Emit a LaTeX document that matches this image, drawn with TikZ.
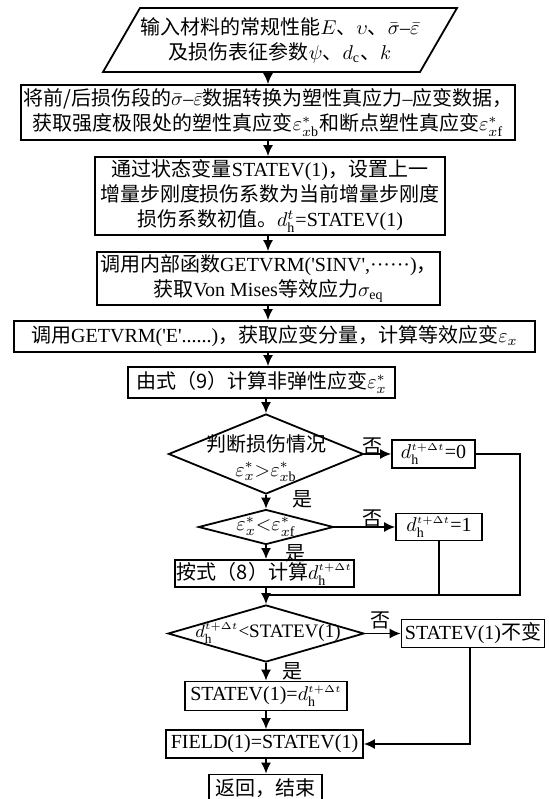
\documentclass[tikz,border=0pt]{standalone}
\usepackage{fontspec}
\setmainfont{Liberation Serif}
\newfontfamily\cjk{Noto Sans CJK SC}
\usetikzlibrary{arrows.meta,shapes.geometric}
\newcommand\zh[1]{{\cjk #1}}
\newcommand\dth{d^{\scriptscriptstyle t+\Delta t}_{\mathrm{h}}}
\newcommand\sq{\textquotesingle}
\begin{document}
\begin{tikzpicture}[x=0.5pt,y=-0.5pt,
  every node/.style={font=\fontsize{10}{12.5}\selectfont},
  box/.style={draw,line width=0.9pt,align=center,inner sep=1pt},
  dia/.style={draw,line width=0.9pt,diamond,inner sep=0pt},
  txt/.style={align=center,inner sep=0pt},
  lab/.style={inner sep=0pt},
  arr/.style={line width=0.7pt,-{Latex[length=5.5pt,width=5pt]}},
  ln/.style={line width=0.7pt}]
\useasboundingbox (0,0) rectangle (548,799);
% input parallelogram
\draw[line width=0.9pt] (140,8) -- (457,8) -- (420,72) -- (103,72) -- cycle;
\node[txt] (in) at (280,40) {\zh{输入材料的常规性能}$E$\zh{、}$\upsilon$\zh{、}$\bar\sigma$--$\bar\varepsilon$\\\zh{及损伤表征参数}$\psi$\zh{、}$d_\mathrm{c}$\zh{、}$k$};
\coordinate (inb) at (268,72);
\coordinate (ax) at (268,0);
\coordinate (ay) at (266,0);
\node[box,minimum width=246.5pt,minimum height=27.5pt] (b2) at (268,112.5) {\zh{将前/后损伤段的}$\bar\sigma$--$\bar\varepsilon$\zh{数据转换为塑性真应力}--\zh{应变数据，}\\\zh{获取强度极限处的塑性真应变}$\varepsilon^*_{x\mathrm{b}}$\zh{和断点塑性真应变}$\varepsilon^*_{x\mathrm{f}}$};
\node[box,minimum width=175pt,minimum height=39pt] (b3) at (270,196) {\zh{通过状态变量}STATEV(1)\zh{，设置上一}\\\zh{增量步刚度损伤系数为当前增量步刚度}\\\zh{损伤系数初值。}$d^t_\mathrm{h}$=STATEV(1)};
\node[box,minimum width=171.5pt,minimum height=26.5pt] (b4) at (268.5,278.5) {\zh{调用内部函数}GETVRM(\sq SINV\sq,······)\zh{，}\\\zh{获取}Von Mises\zh{等效应力}$\sigma_\mathrm{eq}$};
\node[box,minimum width=260.5pt,minimum height=15.5pt] (b5) at (274.5,336.5) {\zh{调用}GETVRM(\sq E\sq......)\zh{，获取应变分量，计算等效应变}$\varepsilon_x$};
\node[box,minimum width=133.5pt,minimum height=15.5pt] (b6) at (261.5,382.5) {\zh{由式（9）计算非弹性应变}$\varepsilon^*_x$};
% diamond 1
\node[dia,minimum width=97.5pt,minimum height=40pt] (d1) at (266,454) {};
\node[txt] (d1t) at (266,458) {\zh{判断损伤情况}\\$\varepsilon^*_x{>}\varepsilon^*_{x\mathrm{b}}$};
\node[box,minimum width=41.5pt,minimum height=14pt] (z0) at (433.5,454) {$\dth$=0};
% diamond 2
\node[dia,minimum width=67.5pt,minimum height=17.5pt] (d2) at (266,527) {};
\node[txt] (d2t) at (266,527) {$\varepsilon^*_x{<}\varepsilon^*_{x\mathrm{f}}$};
\node[box,minimum width=43pt,minimum height=13.5pt] (z1) at (439,527) {$\dth$=1};
\node[box,minimum width=87.5pt,minimum height=13.5pt] (b8) at (264.5,573.5) {\zh{按式（8）计算}$\dth$};
\coordinate (m) at (266,595);
\coordinate (r0) at (520,595);
% diamond 3
\node[dia,minimum width=98pt,minimum height=28.5pt] (d3) at (266,633.5) {};
\node[txt,font=\fontsize{9.5}{12}\selectfont] (d3t) at (268,633.5) {$\dth$<STATEV(1)};
\node[box,minimum width=71.5pt,minimum height=14pt] (nc) at (473,633.5) {STATEV(1)\zh{不变}};
\node[box,minimum width=81pt,minimum height=14.5pt] (b9) at (266,696) {STATEV(1)=$\dth$};
\node[box,minimum width=98.5pt,minimum height=14pt] (b10) at (264.5,744) {FIELD(1)=STATEV(1)};
\node[box,minimum width=56.5pt,minimum height=13.5pt] (b11) at (265.5,788) {\zh{返回，结束}};
% labels
\node[lab] (n1) at (372,446) {\zh{否}};
\node[lab] (y1) at (302,499) {\zh{是}};
\node[lab] (n2) at (372,518) {\zh{否}};
\node[lab] (y2) at (295,553) {\zh{是}};
\node[lab] (n3) at (380,620) {\zh{否}};
\node[lab] (y3) at (292,671) {\zh{是}};
% connectors
\draw[arr] (inb) -- (b2.north -| inb);
\draw[arr] (b2.south -| ax) -- (b3.north -| ax);
\draw[arr] (b3.south -| ax) -- (b4.north -| ax);
\draw[arr] (b4.south -| ax) -- (b5.north -| ax);
\draw[arr] (b5.south -| ax) -- (b6.north -| ax);
\draw[arr] (b6.south -| ay) -- (d1.north);
\draw[arr] (d1.east) -- (z0.west);
\draw[arr] (d1.south) -- (d2.north);
\draw[arr] (d2.east) -- (z1.west);
\draw[arr] (d2.south) -- (b8.north -| ay);
\draw[ln] (z0.east) -| (r0) -- (m);
\draw[ln] (z1.south) -- (z1.south |- m);
\draw[arr] (b8.south -| ay) -- (d3.north);
\draw[arr] (d3.east) -- (nc.west);
\draw[arr] (d3.south) -- (b9.north -| ay);
\draw[arr] (b9.south -| ay) -- (b10.north -| ay);
\draw[arr] (nc.south -| 470,0) |- (b10.east);
\draw[arr] (b10.south -| ay) -- (b11.north -| ay);
\end{tikzpicture}
\end{document}
